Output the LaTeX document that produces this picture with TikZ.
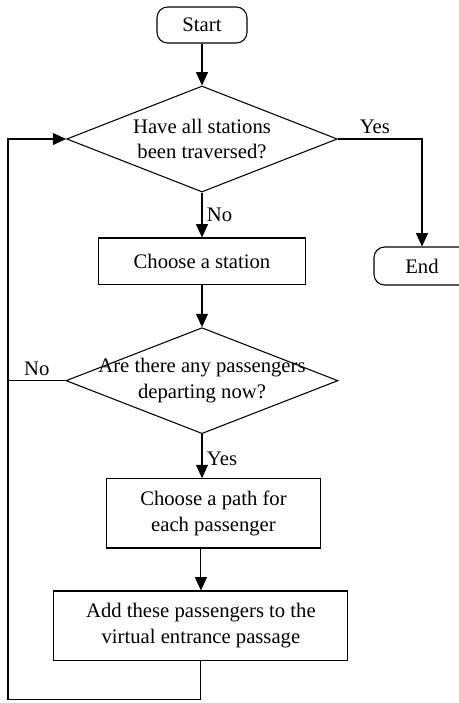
\documentclass[tikz,border=0pt]{standalone}
\usepackage{fontspec}
\setmainfont{Liberation Serif}
\usetikzlibrary{arrows.meta,positioning,shapes.geometric}

\begin{document}
\begin{tikzpicture}[>={Triangle[length=10pt,width=9pt]}, line width=0.8pt,
  font=\fontsize{15.5}{19}\selectfont,
  term/.style={draw, rounded corners=8pt, minimum width=67.5pt, minimum height=27pt},
  proc/.style={draw, align=center, minimum height=35pt},
  cond/.style={draw, diamond, aspect=2.55, inner ysep=0pt, inner xsep=-19pt, align=center, minimum width=203pt, minimum height=79.5pt}]
  \useasboundingbox (-151.5pt,18.75pt) rectangle (192.75pt,-508.5pt);

  \node[term] (start) at (0,0) {Start};
  \node[cond, below=31.45pt of start] (trav) {Have all stations\\been traversed?};
  \node[proc, minimum width=155pt, below=33.7pt of trav] (pick) {Choose a station};
  \node[cond, minimum width=204pt, below=31.45pt of pick] (dep) {Are there any passengers\\departing now?};
  \node[proc, minimum width=161pt, minimum height=52pt, below=32.95pt of dep, xshift=8.6pt] (path) {Choose a path for\\each passenger};
  \node[proc, minimum width=220.5pt, minimum height=52pt, below=31.45pt of path, xshift=-9.4pt] (add) {Add these passengers to the\\virtual entrance passage};
  \node[term, minimum width=72pt, minimum height=28.5pt] (end) at (165pt,-180.75pt) {End};

  \coordinate (lb) at ([yshift=-29.25pt]add.south);
  \coordinate (ll) at (-145.5pt,0);

  \draw[->] (start) -- (trav);
  \draw[->] (trav.east) -| node[above, pos=0.22] {Yes} (end.north);
  \draw[->] (trav) -- node[right] {No} (pick);
  \draw[->] (pick) -- (dep);
  \draw[->] (dep.south) -- node[right, pos=0.55] {Yes} (dep.south |- path.north);
  \draw[->] (path.south -| add.north) -- (add.north);
  \draw (dep.west) -- node[above] {No} (dep.west -| ll);
  \draw[->] (add.south) -- (lb) -| (ll |- trav.west) -- (trav.west);
\end{tikzpicture}
\end{document}
